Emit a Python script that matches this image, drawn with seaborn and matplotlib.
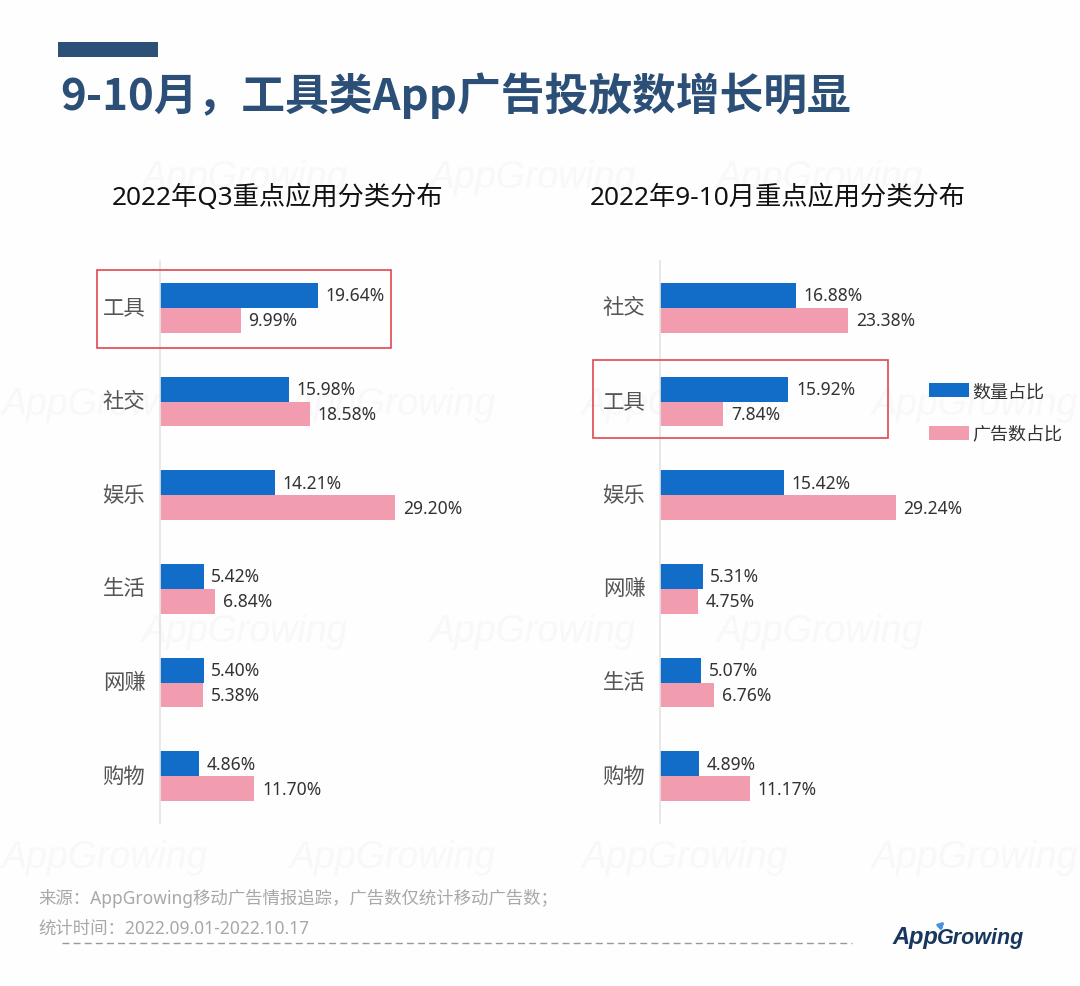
import pandas as pd
import matplotlib
matplotlib.use('Agg')
import matplotlib.pyplot as plt
from matplotlib.lines import Line2D
from matplotlib.patches import FancyArrowPatch, Rectangle
from matplotlib.transforms import ScaledTranslation
import seaborn as sns

# datos de los dos paneles
cats_q3 = ['工具', '社交', '娱乐', '生活', '网赚', '购物']
count_q3 = [19.64, 15.98, 14.21, 5.42, 5.40, 4.86]
ads_q3 = [9.99, 18.58, 29.20, 6.84, 5.38, 11.70]

cats_sep = ['社交', '工具', '娱乐', '网赚', '生活', '购物']
count_sep = [16.88, 15.92, 15.42, 5.31, 5.07, 4.89]
ads_sep = [23.38, 7.84, 29.24, 4.75, 6.76, 11.17]

series_names = ['数量占比', '广告数占比']
colors = ['#116dc8', '#f29daf']
navy = '#2b4f76'

sns.set_theme(style='white')
plt.rcParams['font.family'] = ['Noto Sans', 'Noto Sans CJK SC', 'DejaVu Sans']

W, H = 1080, 987
fig = plt.figure(figsize=(W / 100, H / 100), dpi=100, facecolor='#fefefe')


def fx(px):
    return px / W


def fy(py):
    return 1 - py / H


def make_df(cats, a, b):
    return pd.DataFrame({
        'cat': cats + cats,
        'serie': [series_names[0]] * len(cats) + [series_names[1]] * len(cats),
        'val': a + b,
    })


def draw_panel(left, cats, a, b):
    ax = fig.add_axes([fx(left), fy(824), 400 / W, 562 / H])
    ax.patch.set_alpha(0)
    sns.barplot(data=make_df(cats, a, b), y='cat', x='val', hue='serie', ax=ax,
                palette=colors, saturation=1, width=0.53, gap=0, orient='h', linewidth=0)
    ax.set_xlim(0, 400 / 8.06)
    ax.set_xlabel('')
    ax.set_ylabel('')
    ax.set_xticks([])
    ax.tick_params(axis='y', length=0, pad=10.5, labelsize=15.4, labelcolor='#555555')
    # subir un poco las etiquetas de categoria
    up = ScaledTranslation(0, 2.5 / 100, fig.dpi_scale_trans)
    for lab in ax.get_yticklabels():
        lab.set_transform(lab.get_transform() + up)
    for s in ['top', 'right', 'bottom']:
        ax.spines[s].set_visible(False)
    ax.spines['left'].set_color('#e4e4e4')
    ax.spines['left'].set_linewidth(1.2)
    for cont in ax.containers:
        ax.bar_label(cont, fmt='%.2f%%', padding=5.5, fontsize=12.6, color='#333333')
    return ax


# marca de agua de fondo
for row_y, row_x in [(178, [245, 533, 820]), (405, [105, 393, 685, 975]),
                     (632, [245, 533, 820]), (858, [105, 393, 685, 975])]:
    for x in row_x:
        fig.text(fx(x), fy(row_y), 'AppGrowing', ha='center', va='center', fontsize=27,
                 family='Liberation Sans', style='italic', color='#f8f8f8', zorder=-1)

ax1 = draw_panel(160, cats_q3, count_q3, ads_q3)
ax2 = draw_panel(660, cats_sep, count_sep, ads_sep)

handles, labels = ax2.get_legend_handles_labels()
ax1.get_legend().remove()
ax2.get_legend().remove()
fig.legend(handles, labels, loc='upper left', bbox_to_anchor=(fx(913), fy(367)), frameon=False,
           fontsize=13, handlelength=2.2, handleheight=0.85, handletextpad=0.2,
           labelspacing=1.4, labelcolor='#333333')

# cabecera
fig.add_artist(Rectangle((fx(58), fy(58)), 100 / W, 15 / H, transform=fig.transFigure,
                         facecolor='#2c5078', edgecolor='none'))
fig.text(fx(60), fy(96), '9-10月，工具类App广告投放数增长明显', fontsize=31.5, fontweight='bold',
         family=['Noto Sans CJK SC', 'DejaVu Sans'], color=navy, ha='left', va='center')
fig.text(fx(278), fy(198), '2022年Q3重点应用分类分布', fontsize=18.9, color='#111111',
         ha='center', va='center')
fig.text(fx(778), fy(198), '2022年9-10月重点应用分类分布', fontsize=18.9, color='#111111',
         ha='center', va='center')

# recuadros rojos
for x0, y0, x1, y1 in [(97, 271, 391, 349), (593, 361, 888, 439)]:
    fig.add_artist(Rectangle((fx(x0), fy(y1)), (x1 - x0) / W, (y1 - y0) / H,
                             transform=fig.transFigure, fill=False,
                             edgecolor='#e2474f', linewidth=1.2))

# pie
fig.text(fx(38), fy(899), '来源：AppGrowing移动广告情报追踪，广告数仅统计移动广告数；', fontsize=12.55,
         color='#a8a8a8', ha='left', va='center')
fig.text(fx(38), fy(929), '统计时间：2022.09.01-2022.10.17', fontsize=12.55,
         color='#a8a8a8', ha='left', va='center')
fig.add_artist(Line2D([fx(62), fx(852)], [fy(944), fy(944)], transform=fig.transFigure,
                      color='#999999', linewidth=1, linestyle=(0, (5, 3))))

# logo
fig.text(fx(892), fy(938), 'App', fontsize=17, family='Liberation Sans', style='italic',
         fontweight='bold', color='#17375e', ha='left', va='center')
fig.text(fx(937), fy(939), 'Growing', fontsize=15.5, family='Liberation Sans', style='italic',
         fontweight='bold', color='#17375e', ha='left', va='center')
fig.add_artist(FancyArrowPatch((fx(941), fy(932)), (fx(947), fy(921)),
                               transform=fig.transFigure, color='#4a90e2',
                               arrowstyle='-|>', mutation_scale=8, linewidth=2,
                               connectionstyle='arc3,rad=-0.3'))

fig.savefig('out.png', dpi=100, facecolor=fig.get_facecolor())
